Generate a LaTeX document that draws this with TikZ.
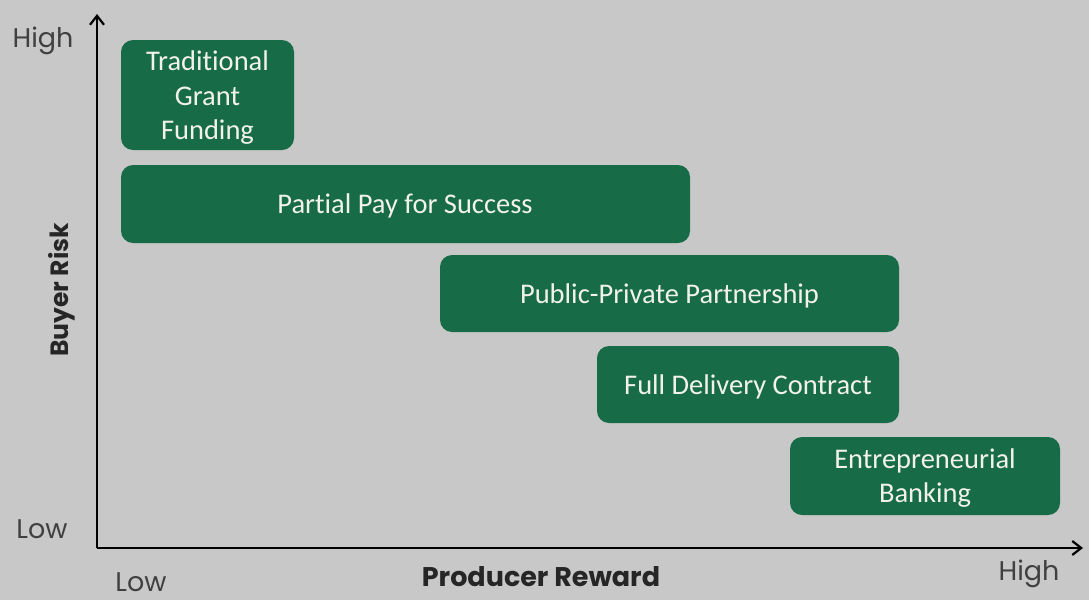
\documentclass[tikz,border=0pt]{standalone}
\usepackage{fontspec}
\setmainfont[Ligatures=NoCommon]{Carlito}
\newfontfamily\geofont{Poppins}
\usetikzlibrary{arrows.meta}
\definecolor{bgcol}{HTML}{C8C8C8}
\definecolor{boxgreen}{HTML}{176B47}
\definecolor{boxtext}{HTML}{F2F2EA}
\tikzset{
  gbox/.style={fill=boxgreen, rounded corners=12pt, draw=none},
  gtext/.style={text=boxtext, font=\fontsize{28.5}{34.5}\selectfont, align=center},
  axislbl/.style={font=\geofont\fontsize{27}{30}\selectfont, text=black!75},
  axis/.style={line width=2.2pt, -{Straight Barb[length=9pt,width=14pt,line width=2.2pt]}},
}
\begin{document}
\begin{tikzpicture}[x=1pt,y=-1pt]
\fill[bgcol] (0,0) rectangle (1089,600);
\useasboundingbox (0,0) rectangle (1089,600);
\coordinate (O) at (97,548);
\coordinate (Ytop) at (97,14);
\coordinate (Xend) at (1083,548);
\draw[axis] (O) -- (Ytop);
\draw[axis] (O) -- (Xend);
% boxes
\fill[gbox] (121,40) rectangle (294,150);
\node[gtext] (tgf) at (207.5,98) {Traditional\\Grant\\Funding};
\fill[gbox] (121,165) rectangle (690,243);
\node[gtext] (pps) at (405,206) {Partial Pay for Success};
\fill[gbox] (440,255) rectangle (899,332);
\node[gtext] (ppp) at (669.5,296) {Public-Private Partnership};
\fill[gbox] (597,346) rectangle (899,423);
\node[gtext] (fdc) at (748,387) {Full Delivery Contract};
\fill[gbox] (790,437) rectangle (1060,515);
\node[gtext] (eb) at (925,478) {Entrepreneurial\\Banking};
% axis labels
\node[axislbl] (yh) at (43,41) {High};
\node[axislbl] (yl) at (42,529) {Low};
\node[axislbl] (xl) at (141,582) {Low};
\node[axislbl] (xh) at (1029,574) {High};
\node[font=\geofont\bfseries\fontsize{27}{30}\selectfont, text=black!85] (xt) at (541,577) {Producer Reward};
\node[font=\geofont\bfseries\fontsize{25}{30}\selectfont, text=black!85, rotate=90] (yt) at (62,290) {Buyer Risk};
\end{tikzpicture}
\end{document}
